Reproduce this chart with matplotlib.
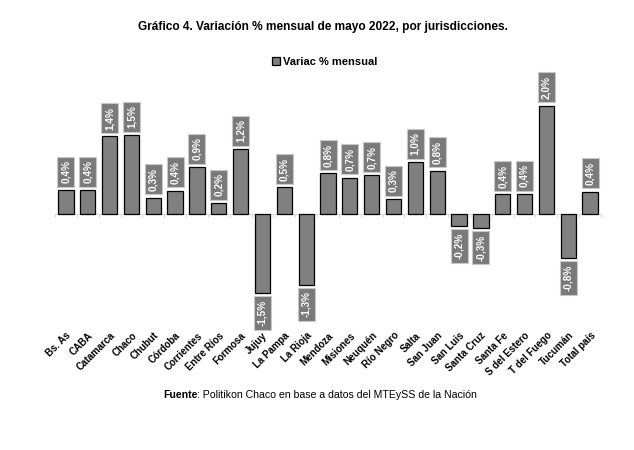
import numpy as np
import matplotlib
matplotlib.use('Agg')
import matplotlib.pyplot as plt
from matplotlib.ticker import FixedLocator

plt.rcParams['font.family'] = ['Liberation Sans', 'DejaVu Sans']

# datos (variacion % mensual, mayo 2022)
jurisdicciones = ['Bs. As', 'CABA', 'Catamarca', 'Chaco', 'Chubut', 'Córdoba',
                  'Corrientes', 'Entre Ríos', 'Formosa', 'Jujuy', 'La Pampa',
                  'La Rioja', 'Mendoza', 'Misiones', 'Neuquén', 'Río Negro',
                  'Salta', 'San Juan', 'San Luis', 'Santa Cruz', 'Santa Fe',
                  'S del Estero', 'T del Fuego', 'Tucumán', 'Total país']
variacion = [0.44, 0.44, 1.43, 1.46, 0.30, 0.43, 0.87, 0.20, 1.20, -1.47,
             0.49, -1.31, 0.75, 0.67, 0.71, 0.27, 0.96, 0.80, -0.23, -0.26,
             0.36, 0.37, 2.00, -0.82, 0.41]
serie = 'Variac % mensual'
titulo = 'Gráfico 4. Variación % mensual de mayo 2022, por jurisdicciones.'


def fmt(v):
    return ('%.1f%%' % v).replace('.', ',')


fig = plt.figure(figsize=(6.34, 4.5), dpi=100)
ax = fig.add_axes([55 / 634, (450 - 330) / 450, 546 / 634, (330 - 84) / 450])

x = np.arange(len(jurisdicciones))
bars = ax.bar(x, variacion, width=0.7, color='#808080', edgecolor='black',
              linewidth=0.9, label=serie, zorder=3)

ax.set_xlim(-0.5, len(jurisdicciones) - 0.5)
ax.set_ylim(-2.15, 2.4)

# etiquetas de datos en cajas grises
for xi, v in zip(x, variacion):
    off = 4.8 if v >= 0 else -4.8
    ax.annotate(fmt(v), xy=(xi, v), xytext=(0, off), textcoords='offset points',
                rotation=90, ha='center', va='bottom' if v >= 0 else 'top',
                fontsize=7.2, fontweight='bold', color='white',
                bbox=dict(boxstyle='square,pad=0.35', facecolor='#7a7a7a',
                          edgecolor='#c8c8c8', linewidth=0.8),
                annotation_clip=False, zorder=4)

# eje en cero con marcas entre categorias
for s in ['top', 'right', 'left']:
    ax.spines[s].set_visible(False)
ax.spines['bottom'].set_position(('data', 0))
ax.spines['bottom'].set_color('#d9d9d9')
ax.spines['bottom'].set_linewidth(0.8)
ax.set_yticks([])
ax.set_xticks(x)
ax.set_xticklabels(jurisdicciones, rotation=45, ha='right',
                   rotation_mode='anchor', fontsize=7, fontweight='bold')
ax.tick_params(axis='x', which='major', length=0, pad=84)
ax.xaxis.set_minor_locator(FixedLocator(np.arange(-0.5, len(x), 1.0)))
ax.tick_params(axis='x', which='minor', length=2.5, color='#d9d9d9', width=0.8)

fig.text(0.51, 1 - 27 / 450, titulo, ha='center', va='center',
         fontsize=8.6, fontweight='bold')
fig.legend(handles=[bars], labels=[serie], loc='center',
           bbox_to_anchor=(0.512, 1 - 62 / 450), frameon=False,
           prop=dict(size=8, weight='bold'), handlelength=0.7,
           handleheight=0.7, handletextpad=0.3)

t = fig.text(163 / 634, 1 - 395 / 450, 'Fuente', ha='left', va='center',
             fontsize=7.6, fontweight='bold')
fig.canvas.draw()
bb = t.get_window_extent()
fig.text(bb.x1 / fig.bbox.width, 1 - 395 / 450,
         ': Politikon Chaco en base a datos del MTEySS de la Nación',
         ha='left', va='center', fontsize=7.6)

fig.savefig('out.png', dpi=100, facecolor='white')
